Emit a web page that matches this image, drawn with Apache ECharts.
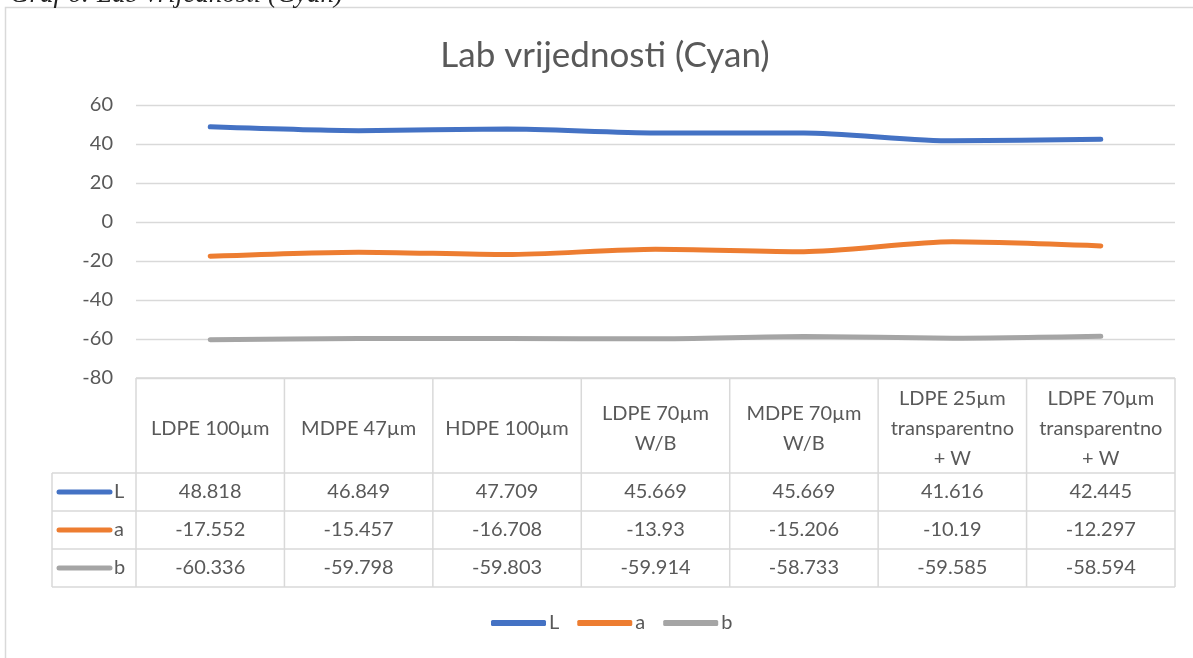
<!DOCTYPE html>
<html>
<head>
<meta charset="utf-8">
<script src="https://cdn.jsdelivr.net/npm/echarts@6/dist/echarts.min.js"></script>
<style>html,body{margin:0;padding:0;background:#fff;}#c{width:1193px;height:658px;}</style>
</head>
<body>
<div id="c"></div>
<script>
const categories = ["LDPE 100µm", "MDPE 47µm", "HDPE 100µm", "LDPE 70µm\nW/B", "MDPE 70µm\nW/B", "LDPE 25µm\ntransparentno\n+ W", "LDPE 70µm\ntransparentno\n+ W"];
const seriesNames = ["L", "a", "b"];
const L = [48.818, 46.849, 47.709, 45.669, 45.669, 41.616, 42.445];
const a = [-17.552, -15.457, -16.708, -13.93, -15.206, -10.19, -12.297];
const b = [-60.336, -59.798, -59.803, -59.914, -58.733, -59.585, -58.594];
const yTicks = [-80, -60, -40, -20, 0, 20, 40, 60];
const colors = ["#4472C4", "#ED7D31", "#A5A5A5"];
const values = [L, a, b];

(function () {
const FONT = 'Lato, "Open Sans", sans-serif';
const TXT = '#595959';
const BORDER = '#D9D9D9';
const FS = 20;

const chart = echarts.init(document.getElementById('c'), null, {renderer: 'canvas'});
const baseOption = {
  animation: false,
  textStyle: {fontFamily: FONT},
  grid: {left: 136, right: 18, top: 105, bottom: 280, containLabel: false},
  xAxis: {
    type: 'category', data: categories, boundaryGap: true,
    axisLine: {show: false}, axisTick: {show: false}, axisLabel: {show: false},
    splitLine: {show: false}
  },
  yAxis: {
    type: 'value', min: yTicks[0], max: yTicks[yTicks.length - 1], interval: 20,
    axisLine: {show: false}, axisTick: {show: false},
    axisLabel: {color: TXT, fontSize: FS, fontFamily: FONT, margin: 23},
    splitLine: {lineStyle: {color: BORDER, width: 1.3}}
  },
  legend: {
    bottom: 20, left: 486, itemWidth: 55, itemHeight: 6, itemGap: 18,
    icon: 'roundRect',
    textStyle: {color: TXT, fontSize: FS, fontFamily: FONT, padding: [0, 0, 0, -2]},
    data: seriesNames
  },
  series: seriesNames.map((n, i) => ({
    name: n, type: 'line', data: values[i], smooth: 0.25,
    symbol: 'none', lineStyle: {color: colors[i], width: 5, cap: 'round'},
    itemStyle: {color: colors[i]}
  }))
};
chart.setOption(baseOption);

const g = [];
const xs = categories.map((c, i) => chart.convertToPixel({xAxisIndex: 0}, i));
const colW = xs.length > 1 ? xs[1] - xs[0] : 148;
const tLeft = xs[0] - colW / 2;
const tRight = xs[xs.length - 1] + colW / 2;
const tTop = chart.convertToPixel({yAxisIndex: 0}, yTicks[0]);
const headerBottom = tTop + 95;
const rowH = 38;
const tableBottom = headerBottom + rowH * 3;
const keyLeft = 52;
const mkLine = (x1, y1, x2, y2) => ({type: 'line', silent: true, shape: {x1, y1, x2, y2}, style: {stroke: BORDER, lineWidth: 1.5}});

g.push({type: 'rect', silent: true, shape: {x: 5.5, y: 7.5, width: 1300, height: 800}, style: {fill: 'none', stroke: BORDER, lineWidth: 1.5}, z: -1});
g.push({type: 'text', silent: true, x: 10, y: 8, style: {text: 'Graf 6: Lab vrijednosti (Cyan)', font: 'italic 27px "Liberation Serif", serif', fill: '#222', verticalAlign: 'bottom', align: 'left'}});
g.push({type: 'text', silent: true, x: 605, y: 56, style: {text: 'Lab vrijednosti (Cyan)', font: '35px ' + FONT, fill: TXT, align: 'center', verticalAlign: 'middle'}});

g.push(mkLine(tLeft, tTop, tRight, tTop));
for (let r = 0; r <= 3; r++) {
  const y = headerBottom + r * rowH;
  g.push(mkLine(keyLeft, y, tRight, y));
}
for (let i = 0; i <= xs.length; i++) {
  const x = tLeft + i * colW;
  g.push(mkLine(x, tTop, x, tableBottom));
}
g.push(mkLine(keyLeft, headerBottom, keyLeft, tableBottom));

categories.forEach((c, i) => {
  g.push({type: 'text', silent: true, x: xs[i], y: (tTop + headerBottom) / 2 + 3,
    style: {text: c, font: FS + 'px ' + FONT, fill: TXT, align: 'center', verticalAlign: 'middle', lineHeight: 30}});
});
seriesNames.forEach((n, r) => {
  const cy = headerBottom + r * rowH + rowH / 2;
  g.push({type: 'line', silent: true, shape: {x1: 59, y1: cy, x2: 110, y2: cy}, style: {stroke: colors[r], lineWidth: 5, lineCap: 'round'}});
  g.push({type: 'text', silent: true, x: 114, y: cy, style: {text: n, font: FS + 'px ' + FONT, fill: TXT, align: 'left', verticalAlign: 'middle'}});
  values[r].forEach((v, i) => {
    g.push({type: 'text', silent: true, x: xs[i], y: cy, style: {text: String(v), font: FS + 'px ' + FONT, fill: TXT, align: 'center', verticalAlign: 'middle'}});
  });
});
chart.setOption({graphic: {elements: g}});
})();
</script>
</body>
</html>
